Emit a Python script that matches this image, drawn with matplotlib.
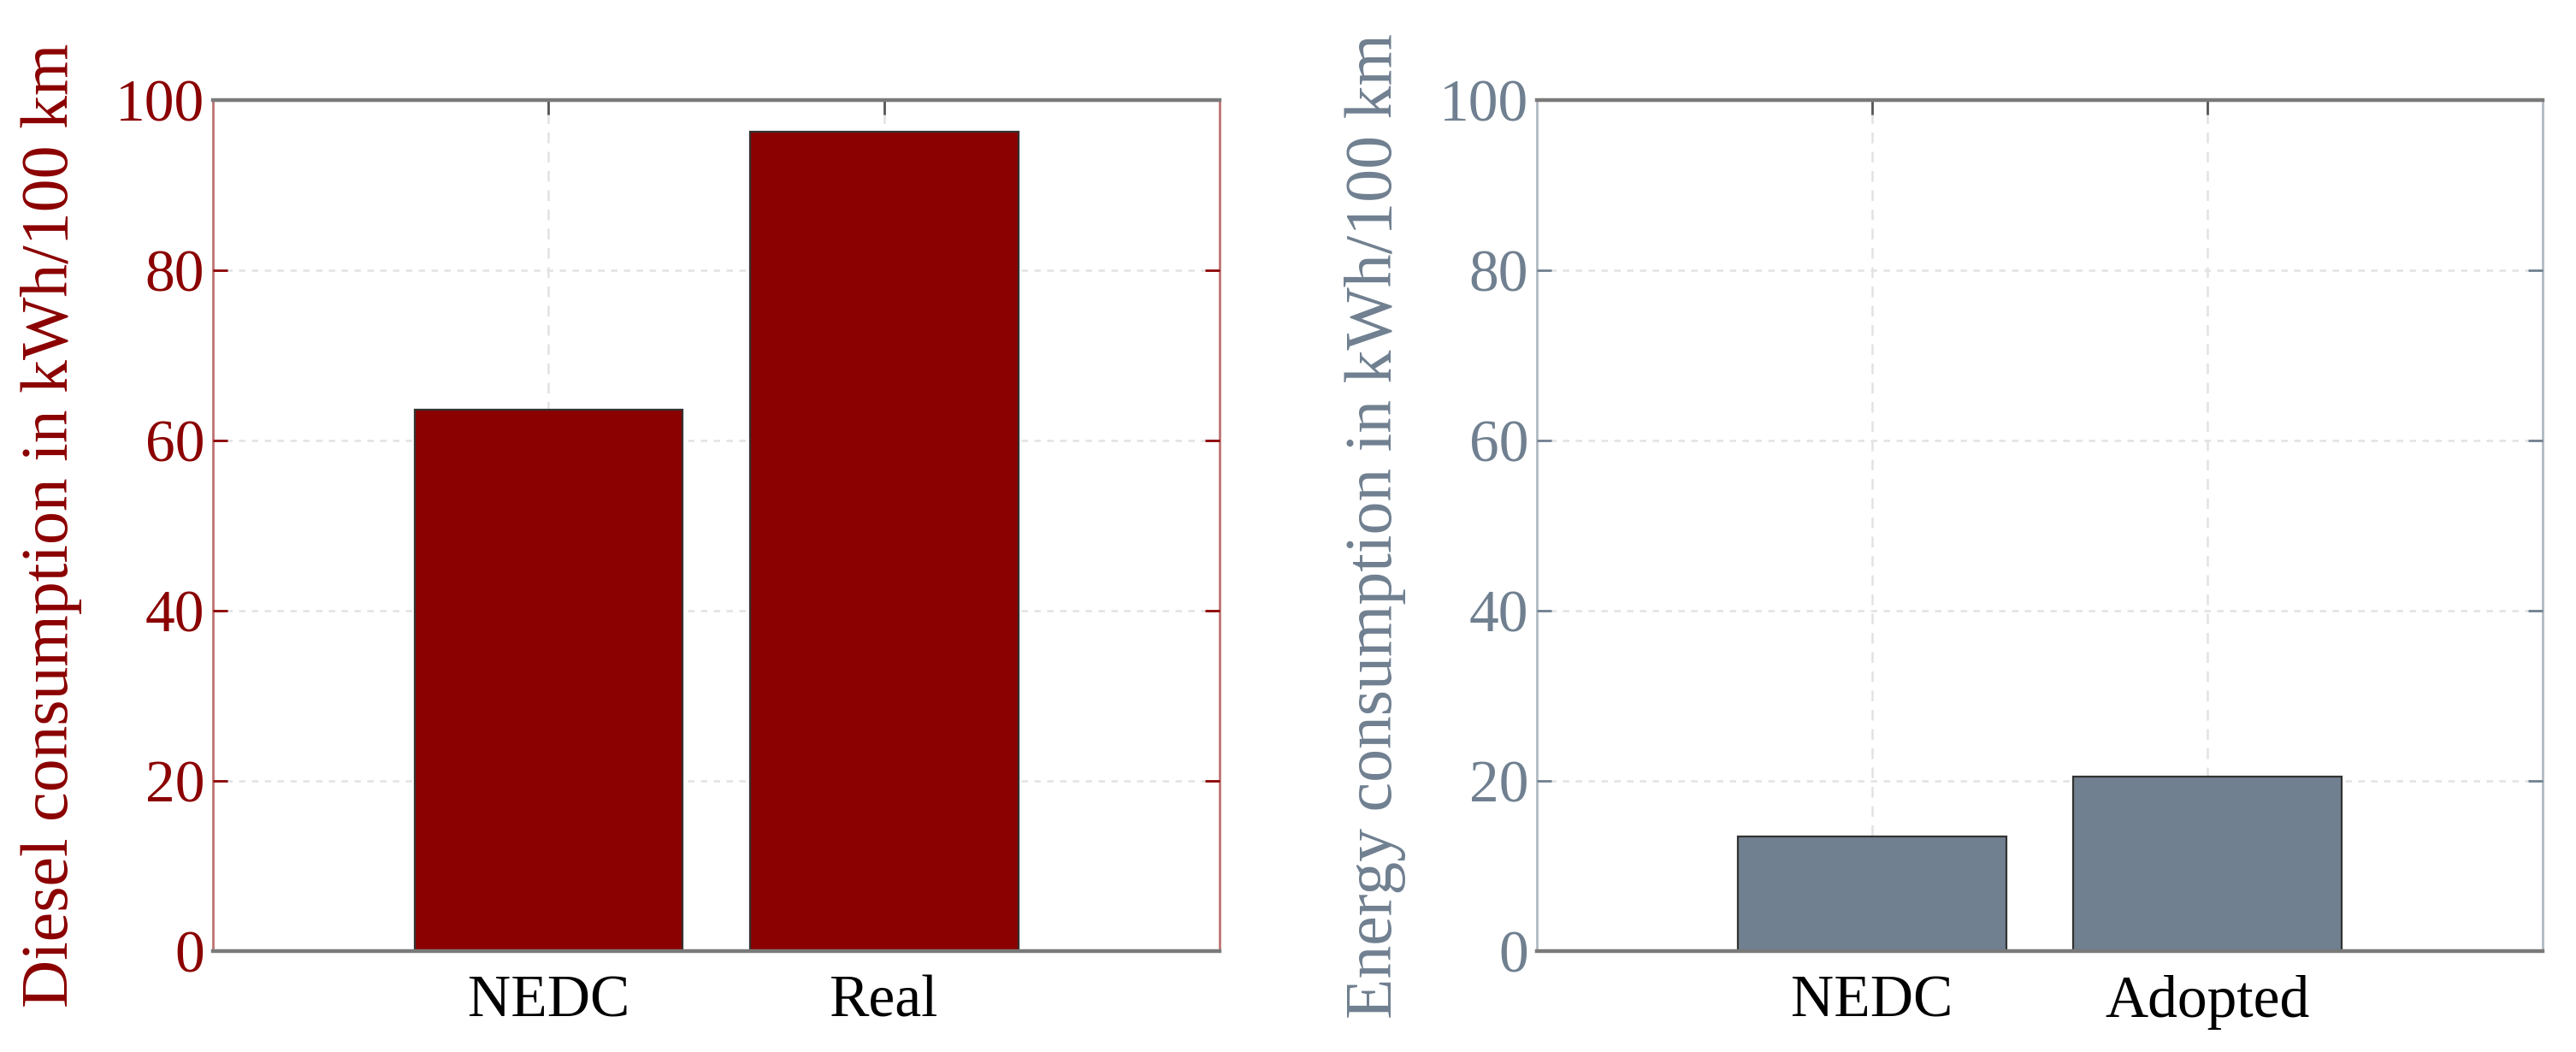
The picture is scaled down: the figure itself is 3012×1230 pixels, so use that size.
"""
Two bar panels: diesel vs. electric energy consumption per 100 km.
"""

import matplotlib
matplotlib.use("Agg")
import matplotlib.pyplot as plt

plt.rcParams["font.family"] = ["Liberation Serif", "DejaVu Serif"]

DIESEL_LABELS = ["NEDC", "Real"]
DIESEL_VALUES = [63.6, 96.3]
ENERGY_LABELS = ["NEDC", "Adopted"]
ENERGY_VALUES = [13.5, 20.5]

DIESEL_COLOR = "#8b0000"
ENERGY_COLOR = "#708090"


def style_panel(ax, color, labels, ylabel):
    ax.set_xlim(-1, 2)
    ax.set_ylim(0, 100)
    ax.set_xticks(range(len(labels)))
    ax.set_xticklabels(labels)
    ax.set_yticks(range(0, 101, 20))
    ax.set_ylabel(ylabel, color=color, fontsize=28, labelpad=14)
    ax.tick_params(axis="y", colors=color, labelsize=25, direction="in",
                   right=True, length=6, width=1.0)
    ax.tick_params(axis="x", labelsize=25, direction="in", top=True,
                   length=6, width=1.0, color="#555555", pad=10)
    for side in ("left", "right"):
        ax.spines[side].set_color(color)
        ax.spines[side].set_alpha(0.55)
        ax.spines[side].set_linewidth(1.0)
    for side in ("top", "bottom"):
        ax.spines[side].set_color("#7a7a7a")
        ax.spines[side].set_linewidth(1.6)
    ax.grid(axis="y", linestyle=(0, (3, 3)), color="#e2e2e2", linewidth=0.9)
    ax.grid(axis="x", linestyle=(0, (5, 4)), color="#e2e2e2", linewidth=0.9)
    ax.set_axisbelow(True)


fig = plt.figure(figsize=(15.06, 6.15), dpi=200)
ax1 = fig.add_axes([0.0827, 0.0959, 0.3908, 0.8088])
ax2 = fig.add_axes([0.5966, 0.0959, 0.3904, 0.8088])

ax1.bar(range(len(DIESEL_VALUES)), DIESEL_VALUES, width=0.8,
        color=DIESEL_COLOR, edgecolor="#333333", linewidth=0.8)
style_panel(ax1, DIESEL_COLOR, DIESEL_LABELS, "Diesel consumption in kWh/100 km")

ax2.bar(range(len(ENERGY_VALUES)), ENERGY_VALUES, width=0.8,
        color=ENERGY_COLOR, edgecolor="#333333", linewidth=0.8)
style_panel(ax2, ENERGY_COLOR, ENERGY_LABELS, "Energy consumption in kWh/100 km")

fig.savefig("out.png", dpi=200)
